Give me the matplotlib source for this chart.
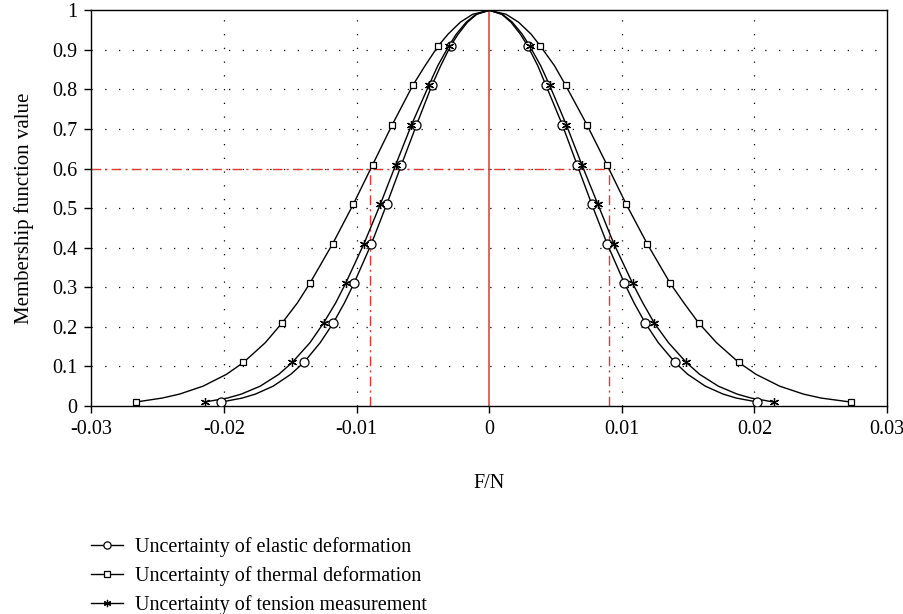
import numpy as np
import matplotlib.pyplot as plt

plt.rcParams['font.family'] = ['Liberation Serif', 'DejaVu Serif']
plt.rcParams['axes.unicode_minus'] = False

# membership levels along each curve, peak first
mu_line = [1.0, 0.99, 0.97, 0.94, 0.91, 0.86, 0.81, 0.71, 0.61, 0.51, 0.41,
           0.31, 0.26, 0.21, 0.16, 0.11, 0.08, 0.05, 0.03, 0.02, 0.01]
# levels that carry a marker
mu_marks = [0.91, 0.81, 0.71, 0.61, 0.51, 0.41, 0.31, 0.21, 0.11, 0.01]

# F/N at each level, left branch (negative) and right branch (positive)
elastic_left = [0.0, -0.00094, -0.00164, -0.00234, -0.00292, -0.00366, -0.00433,
                -0.00549, -0.00662, -0.00773, -0.00889, -0.01020, -0.01093,
                -0.01176, -0.01275, -0.01398, -0.01497, -0.01630, -0.01764,
                -0.01863, -0.02020]
elastic_right = [0.0, 0.00094, 0.00164, 0.00234, 0.00290, 0.00366, 0.00428,
                 0.00552, 0.00662, 0.00773, 0.00889, 0.01020, 0.01093,
                 0.01176, 0.01275, 0.01401, 0.01497, 0.01630, 0.01764,
                 0.01863, 0.02023]

thermal_left = [0.0, -0.00125, -0.00218, -0.00310, -0.00385, -0.00484, -0.00577,
                -0.00733, -0.00879, -0.01025, -0.01181, -0.01353, -0.01448,
                -0.01562, -0.01689, -0.01854, -0.01982, -0.02159, -0.02336,
                -0.02467, -0.02665]
thermal_right = [0.0, 0.00127, 0.00221, 0.00315, 0.00385, 0.00492, 0.00577,
                 0.00738, 0.00887, 0.01033, 0.01191, 0.01365, 0.01469,
                 0.01579, 0.01714, 0.01882, 0.02012, 0.02191, 0.02370,
                 0.02503, 0.02725]

tension_left = [0.0, -0.00100, -0.00174, -0.00248, -0.00305, -0.00388, -0.00456,
                -0.00587, -0.00705, -0.00821, -0.00945, -0.01083, -0.01159,
                -0.01249, -0.01352, -0.01486, -0.01587, -0.01728, -0.01870,
                -0.01975, -0.02146]
tension_right = [0.0, 0.00100, 0.00174, 0.00248, 0.00305, 0.00388, 0.00456,
                 0.00582, 0.00698, 0.00819, 0.00940, 0.01081, 0.01159,
                 0.01244, 0.01352, 0.01486, 0.01587, 0.01728, 0.01870,
                 0.01975, 0.02146]

labels = ["Uncertainty of elastic deformation",
          "Uncertainty of thermal deformation",
          "Uncertainty of tension measurement"]

# reference cut at mu = 0.6
cut_mu = 0.6
cut_f = [-0.009, 0.009]

x_ticks = [-0.03, -0.02, -0.01, 0, 0.01, 0.02, 0.03]
y_ticks = [0, 0.1, 0.2, 0.3, 0.4, 0.5, 0.6, 0.7, 0.8, 0.9, 1]

red = '#dc3a30'
fs = 14.5

fig = plt.figure(figsize=(9.04, 6.14), dpi=100)
ax = fig.add_axes([0.1012, 0.3388, 0.8800, 0.6444])

# dotted grid
for gx in [-0.02, -0.01, 0.01, 0.02]:
    ax.axvline(gx, color='black', lw=0.9, ls=(0, (1, 10)), zorder=1)
for gy in y_ticks[1:-1]:
    ax.axhline(gy, color='black', lw=0.9, ls=(0, (1, 10)), zorder=1)

# red guide lines
ax.plot([0, 0], [0, 1], color=red, lw=1.1, zorder=2)
ax.plot([x_ticks[0], cut_f[1]], [cut_mu, cut_mu], color=red, lw=1.0,
        ls=(0, (7, 3, 1.5, 3)), zorder=2)
for cf in cut_f:
    ax.plot([cf, cf], [0, cut_mu], color=red, lw=1.0,
            ls=(0, (7, 3, 1.5, 3)), zorder=2)

mu = np.array(mu_line)
marked = np.isin(np.round(mu, 2), mu_marks)

curves = [
    (elastic_left, elastic_right, 'o', 6.5, 'white'),
    (thermal_left, thermal_right, 's', 4.8, 'white'),
    (tension_left, tension_right, (6, 2, 0), 6.5, 'black'),
]
handles = []
for (xl, xr, mk, ms, fc), lab in zip(curves, labels):
    xl = np.array(xl)
    xr = np.array(xr)
    x_all = np.concatenate([xl[::-1], xr[1:]])
    y_all = np.concatenate([mu[::-1], mu[1:]])
    ax.plot(x_all, y_all, color='black', lw=1.0, zorder=3)
    ax.plot(np.concatenate([xl[marked], xr[marked]]),
            np.concatenate([mu[marked], mu[marked]]),
            ls='none', marker=mk, ms=ms, mfc=fc, mec='black', mew=0.9,
            zorder=4)
    h, = ax.plot([], [], color='black', lw=1.0, marker=mk, ms=ms * 0.8,
                 mfc=fc, mec='black', mew=0.9, label=lab)
    handles.append(h)

ax.set_xlim(-0.03, 0.03)
ax.set_ylim(0, 1)
ax.set_xticks(x_ticks)
ax.set_xticklabels([f"{v:g}" for v in x_ticks])
ax.set_yticks(y_ticks)
ax.set_yticklabels([f"{v:g}" for v in y_ticks])
ax.tick_params(direction='out', length=5, width=1.0, labelsize=fs,
               colors='black', pad=5)
for s in ax.spines.values():
    s.set_linewidth(1.0)

ax.set_xlabel("F/N", fontsize=fs, labelpad=25)
ax.set_ylabel("Membership function value", fontsize=fs + 0.5, labelpad=13)

fig.legend(handles=handles, loc='upper left', bbox_to_anchor=(0.101, 0.125),
           bbox_transform=fig.transFigure, frameon=False, fontsize=fs,
           handlelength=1.55, handletextpad=0.6, labelspacing=0.45,
           borderaxespad=0, borderpad=0)

fig.savefig("out.png", dpi=100)
